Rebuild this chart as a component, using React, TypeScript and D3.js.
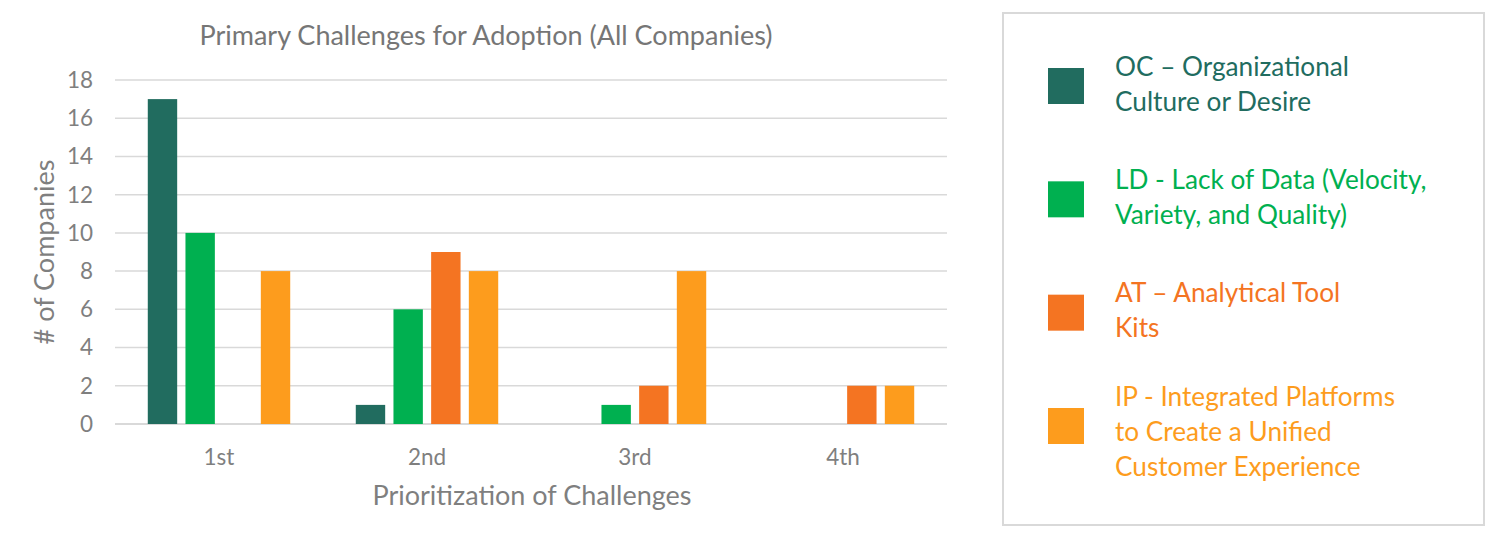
import * as d3 from 'd3';

// Chart data
const categories = ['1st', '2nd', '3rd', '4th'];
const seriesKeys = ['OC', 'LD', 'AT', 'IP'];
const seriesColors = ['#216C5F', '#00B050', '#F47422', '#FD9C1D'];
const legendLines = [
  ['OC – Organizational', 'Culture or Desire'],
  ['LD - Lack of Data (Velocity,', 'Variety, and Quality)'],
  ['AT – Analytical Tool', 'Kits'],
  ['IP - Integrated Platforms', 'to Create a Unified', 'Customer Experience'],
];
const ocValues = [17, 1, 0, 0];
const ldValues = [10, 6, 1, 0];
const atValues = [0, 9, 2, 2];
const ipValues = [8, 8, 8, 2];
const yTicks = [0, 2, 4, 6, 8, 10, 12, 14, 16, 18];

const allValues = [ocValues, ldValues, atValues, ipValues];

const W = 1486;
const H = 539;
const FONT = 'Lato, "Open Sans", sans-serif';
const GRAY = '#7f7f7f';

export default function App() {
  const plot = { left: 115, right: 947, top: 80, bottom: 424 };

  const x0 = d3.scaleBand<string>().domain(categories).range([plot.left, plot.right]).padding(0);
  const x1 = d3
    .scaleBand<string>()
    .domain(seriesKeys)
    .range([0, x0.bandwidth()])
    .paddingInner(0.22)
    .paddingOuter(0.87);
  const y = d3.scaleLinear().domain([0, 18]).range([plot.bottom, plot.top]);

  // legend rows: vertical centre of each swatch
  const legendY = d3.scalePoint<string>().domain(seriesKeys).range([86, 426]);
  const lineH = 35;

  return (
    <div style={{ position: 'absolute', left: 0, top: 0 }}>
      <svg width={W} height={H} style={{ display: 'block', fontFamily: FONT }}>
        <rect width={W} height={H} fill="#fff" />

        {/* title */}
        <text x={486} y={36} dy="0.34em" textAnchor="middle" fill="#767676" fontSize={27}>
          Primary Challenges for Adoption (All Companies)
        </text>

        {/* gridlines + y ticks */}
        {yTicks.map((t) => (
          <g key={t}>
            <line
              x1={plot.left}
              x2={plot.right}
              y1={y(t)}
              y2={y(t)}
              stroke="#d9d9d9"
              strokeWidth={t === 0 ? 2 : 1.5}
            />
            <text
              x={93}
              y={y(t)}
              dy="0.35em"
              textAnchor="end"
              fill={GRAY}
              fontSize={22.5}
            >
              {t}
            </text>
          </g>
        ))}

        {/* bars */}
        {categories.map((c, ci) => (
          <g key={c} transform={`translate(${x0(c)},0)`}>
            {seriesKeys.map((s, si) => {
              const v = allValues[si][ci];
              if (!v) return null;
              return (
                <rect
                  key={s}
                  x={x1(s)}
                  y={y(v)}
                  width={x1.bandwidth()}
                  height={y(0) - y(v)}
                  fill={seriesColors[si]}
                />
              );
            })}
            <text
              x={x0.bandwidth() / 2}
              y={457}
              dy="0.35em"
              textAnchor="middle"
              fill={GRAY}
              fontSize={22.5}
            >
              {c}
            </text>
          </g>
        ))}

        {/* axis titles */}
        <text x={532} y={496} dy="0.34em" textAnchor="middle" fill={GRAY} fontSize={27}>
          Prioritization of Challenges
        </text>
        <text
          transform={`translate(45,252) rotate(-90)`}
          dy="0.34em"
          textAnchor="middle"
          fill={GRAY}
          fontSize={27}
        >
          # of Companies
        </text>

        {/* legend */}
        <rect x={1003} y={13} width={481} height={512} fill="none" stroke="#d9d9d9" strokeWidth={2} />
        {seriesKeys.map((s, si) => {
          const cy = legendY(s) as number;
          const lines = legendLines[si];
          const first = cy - 19 - (lines.length - 2) * 10;
          return (
            <g key={s}>
              <rect x={1048} y={cy - 18} width={36} height={36} fill={seriesColors[si]} />
              {lines.map((ln, li) => (
                <text
                  key={li}
                  x={1115}
                  y={first + li * lineH}
                  dy="0.33em"
                  fill={seriesColors[si]}
                  fontSize={26.2}
                >
                  {ln}
                </text>
              ))}
            </g>
          );
        })}
      </svg>
    </div>
  );
}
